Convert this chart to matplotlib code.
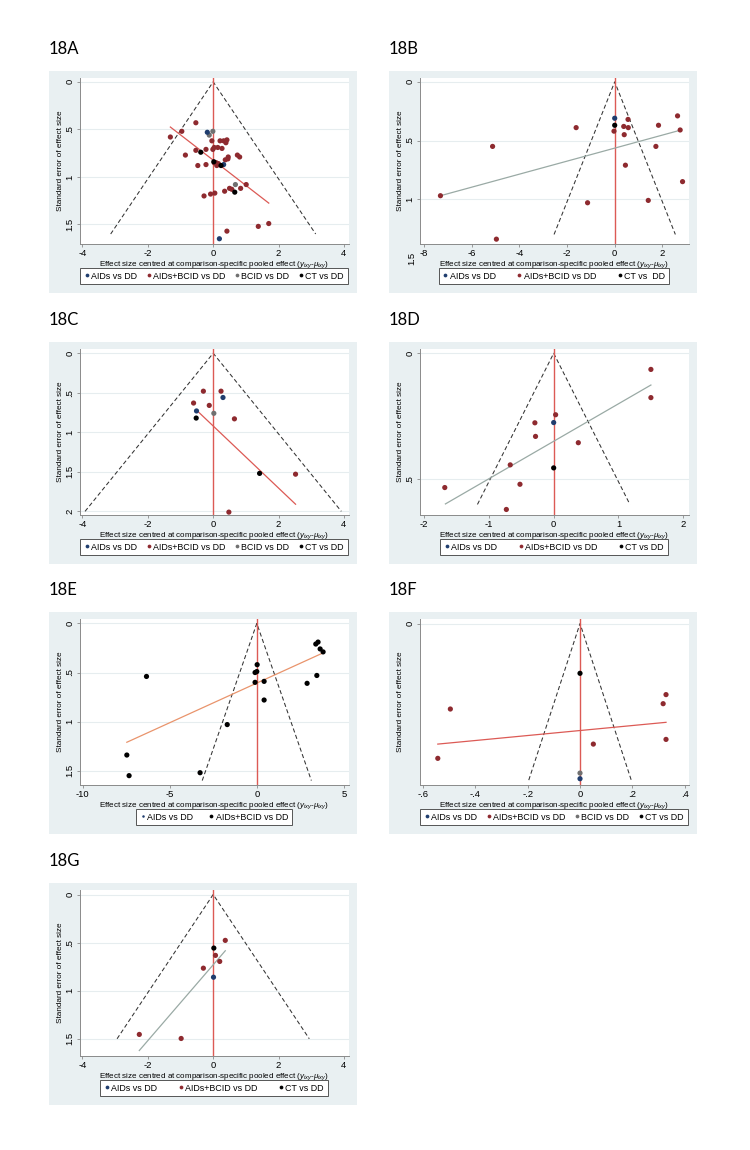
import numpy as np
import matplotlib
matplotlib.use('Agg')
import matplotlib.pyplot as plt
from matplotlib.patches import Rectangle
from matplotlib.lines import Line2D

plt.rcParams['font.family'] = ['Liberation Sans', 'DejaVu Sans']
plt.rcParams['mathtext.fontset'] = 'custom'
plt.rcParams['mathtext.rm'] = 'Liberation Sans'
plt.rcParams['mathtext.it'] = 'Liberation Sans:italic'

# ---------------- data ----------------
# 18A
a_x = [-0.53, -0.96, -1.31, -0.18, -0.01, -0.12, -0.04, 0.21, 0.32, 0.42, 0.39, 0.03, 0.14, 0.27,
       -0.01, -0.53, -0.22, -0.38, -0.85, 0.74, 0.81, 0.46, 0.45, 0.37, -0.47, -0.22, 0.02, 0.09,
       0.16, 0.24, 0.32, 0.11, 0.03, 0.68, 1.01, 0.50, 0.57, 0.84, 0.35, 0.66, -0.08, 0.05, -0.28,
       1.70, 1.38, 0.42, 0.19]
a_se = [0.43, 0.52, 0.58, 0.53, 0.52, 0.56, 0.62, 0.62, 0.62, 0.61, 0.64, 0.69, 0.69, 0.70,
        0.71, 0.72, 0.71, 0.74, 0.77, 0.77, 0.79, 0.79, 0.81, 0.82, 0.88, 0.87, 0.84, 0.85,
        0.86, 0.88, 0.87, 0.88, 0.85, 1.08, 1.08, 1.12, 1.13, 1.12, 1.15, 1.16, 1.18, 1.17, 1.20,
        1.49, 1.52, 1.57, 1.65]
a_grp = ['AIDs+BCID', 'AIDs+BCID', 'AIDs+BCID', 'AIDs', 'BCID', 'BCID', 'AIDs+BCID', 'AIDs+BCID',
         'AIDs+BCID', 'AIDs+BCID', 'AIDs+BCID', 'AIDs+BCID', 'AIDs+BCID', 'AIDs+BCID', 'AIDs+BCID',
         'AIDs+BCID', 'AIDs+BCID', 'CT', 'AIDs+BCID', 'AIDs+BCID', 'AIDs+BCID', 'AIDs+BCID',
         'AIDs+BCID', 'AIDs+BCID', 'AIDs+BCID', 'AIDs+BCID', 'CT', 'AIDs+BCID', 'AIDs+BCID', 'CT',
         'AIDs', 'AIDs+BCID', 'AIDs+BCID', 'BCID', 'AIDs+BCID', 'AIDs+BCID', 'AIDs+BCID',
         'AIDs+BCID', 'AIDs+BCID', 'CT', 'AIDs+BCID', 'AIDs+BCID', 'AIDs+BCID', 'AIDs+BCID',
         'AIDs+BCID', 'AIDs+BCID', 'AIDs']
a_fit_x = [-1.31, 1.70]
a_fit_se = [0.475, 1.275]

# 18B
b_x = [0.0, 0.0, -0.03, -1.62, 0.38, 0.56, 0.57, 0.40, 1.84, 2.64, 2.75, 1.73, 0.45, 2.85,
       -5.13, -7.32, -1.14, 1.41, -4.97]
b_se = [0.31, 0.37, 0.42, 0.39, 0.38, 0.32, 0.39, 0.45, 0.37, 0.29, 0.41, 0.55, 0.71, 0.85,
        0.55, 0.97, 1.03, 1.01, 1.34]
b_grp = ['AIDs', 'CT'] + ['AIDs+BCID'] * 17
b_fit_x = [-7.32, 2.79]
b_fit_se = [0.97, 0.41]

# 18C
c_x = [-0.30, 0.24, 0.30, -0.60, -0.12, -0.51, 0.02, -0.52, 0.65, 1.42, 2.52, 0.48]
c_se = [0.48, 0.48, 0.56, 0.63, 0.66, 0.73, 0.76, 0.82, 0.83, 1.52, 1.53, 2.01]
c_grp = ['AIDs+BCID', 'AIDs+BCID', 'AIDs', 'AIDs+BCID', 'AIDs+BCID', 'AIDs', 'BCID', 'CT',
         'AIDs+BCID', 'CT', 'AIDs+BCID', 'AIDs+BCID']
c_fit_x = [-0.51, 2.52]
c_fit_se = [0.72, 1.91]

# 18D
d_x = [1.50, 1.50, 0.03, 0.0, -0.29, -0.28, 0.38, 0.0, -0.67, -0.52, -1.68, -0.73]
d_se = [0.064, 0.176, 0.244, 0.275, 0.276, 0.33, 0.355, 0.455, 0.443, 0.52, 0.533, 0.62]
d_grp = ['AIDs+BCID', 'AIDs+BCID', 'AIDs+BCID', 'AIDs', 'AIDs+BCID', 'AIDs+BCID', 'AIDs+BCID',
         'CT', 'AIDs+BCID', 'AIDs+BCID', 'AIDs+BCID', 'AIDs+BCID']
d_fit_x = [-1.67, 1.50]
d_fit_se = [0.598, 0.126]

# 18E
e_x = [3.39, 3.52, 3.64, 3.81, 3.45, 2.89, 0.02, 0.0, -0.10, -0.10, 0.42, 0.42, -6.34, -1.70,
       -7.47, -7.34, -3.26]
e_se = [0.21, 0.19, 0.26, 0.29, 0.53, 0.61, 0.42, 0.49, 0.50, 0.60, 0.59, 0.78, 0.54, 1.03,
        1.34, 1.55, 1.52]
e_grp = ['AIDs+BCID'] * 17
e_fit_x = [-7.47, 3.81]
e_fit_se = [1.21, 0.30]

# 18F
f_x = [0.0, 0.329, 0.318, -0.496, 0.329, 0.051, -0.544, 0.0, 0.0]
f_se = [0.0318, 0.0454, 0.0512, 0.0546, 0.074, 0.077, 0.0861, 0.0955, 0.0991]
f_grp = ['CT', 'AIDs+BCID', 'AIDs+BCID', 'AIDs+BCID', 'AIDs+BCID', 'AIDs+BCID', 'AIDs+BCID',
         'BCID', 'AIDs']
f_fit_x = [-0.544, 0.329]
f_fit_se = [0.077, 0.0631]

# 18G
g_x = [0.37, 0.02, 0.07, 0.20, -0.30, 0.01, -2.26, -0.98]
g_se = [0.477, 0.557, 0.633, 0.696, 0.766, 0.86, 1.455, 1.497]
g_grp = ['AIDs+BCID', 'CT', 'AIDs+BCID', 'AIDs+BCID', 'AIDs+BCID', 'AIDs', 'AIDs+BCID',
         'AIDs+BCID']
g_fit_x = [-2.26, 0.37]
g_fit_se = [1.622, 0.585]

colors = {'AIDs': '#1f3d6e', 'AIDs+BCID': '#8e2a2f', 'BCID': '#707070', 'CT': '#000000'}
red = '#dc5a55'
grayline = '#9aaaa5'
orange = '#e9946c'

leg4 = [('AIDs', 'AIDs vs DD'), ('AIDs+BCID', 'AIDs+BCID vs DD'), ('BCID', 'BCID vs DD'), ('CT', 'CT vs DD')]
leg3 = [('AIDs', 'AIDs vs DD'), ('AIDs+BCID', 'AIDs+BCID vs DD'), ('CT', 'CT vs DD')]

panels = [
    dict(name='18A', x=a_x, se=a_se, grp=a_grp, fx=a_fit_x, fse=a_fit_se, fcol=red, funnel=1.6,
         xlim=(-4.09, 4.14), ylim=(1.70, -0.046), xt=[-4, -2, 0, 2, 4], yt=[0, 0.5, 1, 1.5],
         leg=leg4, pos=(49, 71)),
    dict(name='18B', x=b_x, se=b_se, grp=b_grp, fx=b_fit_x, fse=b_fit_se, fcol=grayline, funnel=1.3,
         xlim=(-8.2, 3.1), ylim=(1.377, -0.037), xt=[-8, -6, -4, -2, 0, 2], yt=[0, 0.5, 1],
         leg=[('AIDs', 'AIDs vs DD'), ('AIDs+BCID', 'AIDs+BCID vs DD'), ('CT', 'CT vs  DD')],
         pos=(389, 71), extra_y=1.5),
    dict(name='18C', x=c_x, se=c_se, grp=c_grp, fx=c_fit_x, fse=c_fit_se, fcol=red, funnel=2.0,
         xlim=(-4.09, 4.14), ylim=(2.04, -0.06), xt=[-4, -2, 0, 2, 4], yt=[0, 0.5, 1, 1.5, 2],
         leg=leg4, pos=(49, 342)),
    dict(name='18D', x=d_x, se=d_se, grp=d_grp, fx=d_fit_x, fse=d_fit_se, fcol=grayline, funnel=0.6,
         xlim=(-2.07, 2.08), ylim=(0.64, -0.019), xt=[-2, -1, 0, 1, 2], yt=[0, 0.5],
         leg=leg3, pos=(389, 342)),
    dict(name='18E', x=e_x, se=e_se, grp=e_grp, fx=e_fit_x, fse=e_fit_se, fcol=orange, funnel=1.6,
         xlim=(-10.19, 5.27), ylim=(1.64, -0.05), xt=[-10, -5, 0, 5], yt=[0, 0.5, 1, 1.5],
         leg=[('AIDs', 'AIDs vs DD'), ('CT', 'AIDs+BCID vs DD')], pos=(49, 612), small_first=True),
    dict(name='18F', x=f_x, se=f_se, grp=f_grp, fx=f_fit_x, fse=f_fit_se, fcol=red, funnel=0.1,
         xlim=(-0.614, 0.415), ylim=(0.1028, -0.0032), xt=[-0.6, -0.4, -0.2, 0, 0.2, 0.4], yt=[0],
         leg=leg4, pos=(389, 612)),
    dict(name='18G', x=g_x, se=g_se, grp=g_grp, fx=g_fit_x, fse=g_fit_se, fcol=grayline, funnel=1.5,
         xlim=(-4.09, 4.14), ylim=(1.674, -0.052), xt=[-4, -2, 0, 2, 4], yt=[0, 0.5, 1, 1.5],
         leg=leg3, pos=(49, 883)),
]

W, H = 750, 1150
BGW, BGH = 308, 222
bg_col = '#e9f0f2'
grid_col = '#e6edef'
axis_col = '#8a8a8a'


def stata(v):
    s = '%g' % v
    if v != 0 and abs(v) < 1:
        s = s.replace('0.', '.', 1)
    return s


def fx_(px):
    return px / W


def fy_(py):
    return 1 - py / H


fig = plt.figure(figsize=(W / 100, H / 100), dpi=100)
fig.patch.set_facecolor('white')

for p in panels:
    x0, y0 = p['pos']
    fig.patches.append(Rectangle((fx_(x0), fy_(y0 + BGH)), BGW / W, BGH / H,
                                 transform=fig.transFigure, facecolor=bg_col, edgecolor='none',
                                 zorder=-10))
    fig.text(fx_(x0), fy_(y0 - 17), p['name'], fontsize=12, family=['Lato', 'DejaVu Sans'],
             va='baseline', ha='left')

    ax = fig.add_axes([fx_(x0 + 30.5), fy_(y0 + 6.5 + 166), 269 / W, 166 / H])
    ax.set_zorder(2)
    ax.set_facecolor('white')
    for s in ['top', 'right']:
        ax.spines[s].set_visible(False)
    for s in ['left', 'bottom']:
        ax.spines[s].set_color(axis_col)
        ax.spines[s].set_linewidth(0.7)

    ax.set_xlim(*p['xlim'])
    ax.set_ylim(*p['ylim'])
    ax.set_xticks(p['xt'])
    ax.set_xticklabels([stata(v) for v in p['xt']])
    ax.set_yticks(p['yt'])
    ax.set_yticklabels([stata(v) for v in p['yt']], rotation=90, va='center')
    ax.tick_params(length=2.5, width=0.6, color=axis_col, labelsize=6.8, pad=1.2)
    ax.yaxis.grid(True, color=grid_col, lw=0.8)
    ax.set_axisbelow(True)

    fs = p['funnel']
    ax.plot([-1.96 * fs, 0, 1.96 * fs], [fs, 0, fs], color='#333333', lw=0.75,
            ls=(0, (4, 2.5)), zorder=2)
    ax.axvline(0, color=red, lw=1.0, zorder=2)
    ax.plot(p['fx'], p['fse'], color=p['fcol'], lw=0.9, zorder=3)

    grp = np.array(p['grp'])
    xs = np.array(p['x'])
    ses = np.array(p['se'])
    for g in ['AIDs+BCID', 'BCID', 'AIDs', 'CT']:
        m = grp == g
        if m.any():
            col = '#000000' if p['name'] == '18E' else colors[g]
            ax.scatter(xs[m], ses[m], s=14, color=col, edgecolors='none', zorder=4)

    if 'extra_y' in p:
        ax.text(-0.012, p['extra_y'], stata(p['extra_y']), transform=ax.get_yaxis_transform(),
                rotation=90, ha='right', va='center', fontsize=6.8, clip_on=False)

    ax.set_xlabel(r'Effect size centred at comparison-specific pooled effect ($y_{ixy}$-$\mu_{ixy}$)',
                  fontsize=5.8, labelpad=1.2)
    ax.set_ylabel('Standard error of effect size', fontsize=5.9, labelpad=1.2)

    handles = []
    for i, (g, lab) in enumerate(p['leg']):
        col = colors[g]
        ms = 2.7
        if p.get('small_first') and i == 0:
            ms = 1.8
        handles.append(Line2D([], [], marker='o', ls='none', color=col, ms=ms, mec='none',
                              label=lab))
    n = len(handles)
    cs = {2: 1.75, 3: 2.35, 4: 1.0}[n]
    leg = fig.legend(handles=handles, loc='upper center',
                     bbox_to_anchor=(fx_(x0 + 30.5 + 134.5), fy_(y0 + 197)),
                     ncol=n, fontsize=6.4, frameon=True, fancybox=False,
                     edgecolor='#555555', framealpha=1, borderpad=0.4, handletextpad=0.2,
                     handlelength=0.6, columnspacing=cs, borderaxespad=0)
    leg.get_frame().set_linewidth(0.7)
    leg.set_zorder(3)

fig.savefig('out.png', dpi=100, facecolor='white')
